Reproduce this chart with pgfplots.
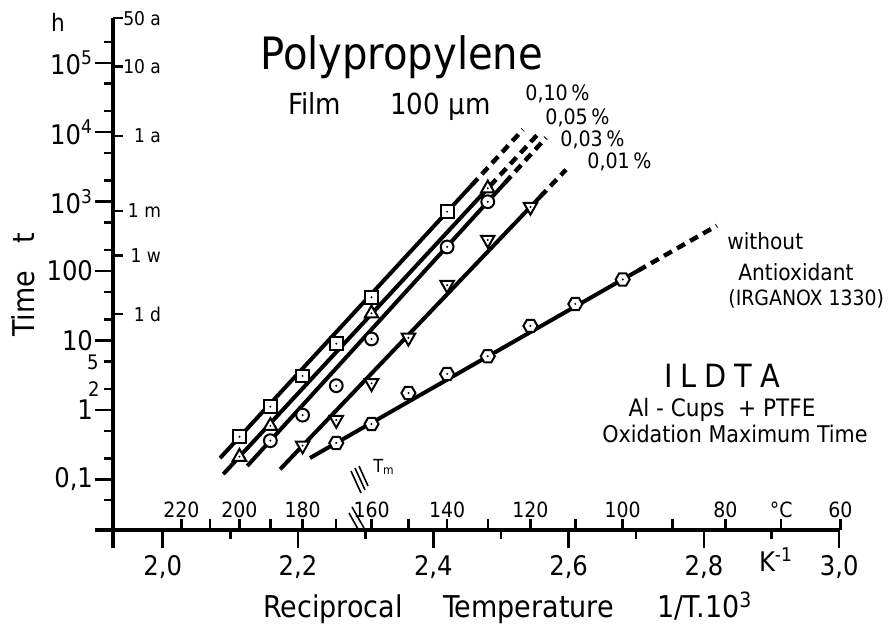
\documentclass[border=0pt]{standalone}
\usepackage{fontspec}
\setmainfont{DejaVu Sans Condensed}
\usepackage{pgfplots}
\pgfplotsset{compat=1.18}

\pgfdeclareplotmark{sqdot}{%
  \pgfpathrectangle{\pgfqpoint{-\pgfplotmarksize}{-\pgfplotmarksize}}{\pgfqpoint{2\pgfplotmarksize}{2\pgfplotmarksize}}%
  \pgfsetfillcolor{white}\pgfusepathqfillstroke
  \pgfpathcircle{\pgfpointorigin}{0.55pt}\pgfsetfillcolor{black}\pgfusepathqfill}
\pgfdeclareplotmark{tridot}{%
  \pgfpathmoveto{\pgfqpoint{0pt}{1.2\pgfplotmarksize}}%
  \pgfpathlineto{\pgfqpoint{-1.05\pgfplotmarksize}{-0.65\pgfplotmarksize}}%
  \pgfpathlineto{\pgfqpoint{1.05\pgfplotmarksize}{-0.65\pgfplotmarksize}}%
  \pgfpathclose
  \pgfsetfillcolor{white}\pgfusepathqfillstroke
  \pgfpathcircle{\pgfpointorigin}{0.55pt}\pgfsetfillcolor{black}\pgfusepathqfill}
\pgfdeclareplotmark{dtridot}{%
  \pgfpathmoveto{\pgfqpoint{0pt}{-1.2\pgfplotmarksize}}%
  \pgfpathlineto{\pgfqpoint{-1.05\pgfplotmarksize}{0.65\pgfplotmarksize}}%
  \pgfpathlineto{\pgfqpoint{1.05\pgfplotmarksize}{0.65\pgfplotmarksize}}%
  \pgfpathclose
  \pgfsetfillcolor{white}\pgfusepathqfillstroke
  \pgfpathcircle{\pgfpointorigin}{0.55pt}\pgfsetfillcolor{black}\pgfusepathqfill}
\pgfdeclareplotmark{circdot}{%
  \pgfpathcircle{\pgfpointorigin}{\pgfplotmarksize}%
  \pgfsetfillcolor{white}\pgfusepathqfillstroke
  \pgfpathcircle{\pgfpointorigin}{0.55pt}\pgfsetfillcolor{black}\pgfusepathqfill}
\pgfdeclareplotmark{hexdot}{%
  \pgfpathmoveto{\pgfpointpolar{0}{1.1\pgfplotmarksize}}%
  \pgfpathlineto{\pgfpointpolar{60}{1.1\pgfplotmarksize}}%
  \pgfpathlineto{\pgfpointpolar{120}{1.1\pgfplotmarksize}}%
  \pgfpathlineto{\pgfpointpolar{180}{1.1\pgfplotmarksize}}%
  \pgfpathlineto{\pgfpointpolar{240}{1.1\pgfplotmarksize}}%
  \pgfpathlineto{\pgfpointpolar{300}{1.1\pgfplotmarksize}}%
  \pgfpathclose
  \pgfsetfillcolor{white}\pgfusepathqfillstroke
  \pgfpathcircle{\pgfpointorigin}{0.55pt}\pgfsetfillcolor{black}\pgfusepathqfill}

\pgfplotsset{
  dline/.style={black, line width=2pt, no marks},
  dext/.style={black, line width=2.2pt, dash pattern=on 4.5pt off 3pt, no marks},
  mk/.style={only marks, black, mark size=3.2pt, mark options={line width=1pt, solid}},
}

\begin{document}
\begin{tikzpicture}
\begin{axis}[
  at={(0,0)}, anchor=south west, scale only axis,
  width=363.7pt, height=256pt,
  xmin=1.92654, xmax=3.0017,
  ymode=log, ymin=0.01862, ymax=440555,
  axis lines=left, axis line style={-, line width=1.6pt},
  clip=false,
  xtick={2.0,2.2,2.4,2.6,2.8,3.0},
  xticklabels={{2,0},{2,2},{2,4},{2,6},{2,8},{3,0}},
  minor xtick={2.1,2.3,2.5,2.7,2.9},
  ytick={0.1,1,10,100,1000,10000,100000},
  yticklabels={{0,1},1,10,100,10\textsuperscript{3},10\textsuperscript{4},10\textsuperscript{5}},
  minor ytick={0.05,0.2,0.5,2,5,20,50,200,500,2000,5000,20000,50000,200000},
  tick align=outside, major tick length=9pt, minor tick length=4.5pt,
  tick style={line width=1.2pt, black},
  tick label style={font=\fontsize{13.5}{16}\selectfont},
  yticklabel style={xshift=2.5pt},
  /pgf/number format/assume math mode=true,
  extra x ticks={2.02779,2.06975,2.11349,2.15913,2.20677,2.25657,2.30867,2.36323,2.42042,2.48046,2.54356,2.60994,2.67989,2.75368,2.83166,2.91418,3.00165},
  extra x tick labels={220,,200,,180,,160,,140,,120,,100,,80,{°C},60},
  extra x tick style={tick align=inside, major tick length=5.5pt,
    xticklabel style={anchor=south, yshift=2.5pt, font=\fontsize{10.5}{12}\selectfont}},
  extra y ticks={438300,87660,8766,730,168,24},
  extra y tick labels={50 a,10 a,1 a,1 m,1 w,1 d},
  extra y tick style={tick align=inside, major tick length=5pt,
    yticklabel style={anchor=east, xshift=25pt, font=\fontsize{9.5}{11}\selectfont}},
]
% 0.10 %
\addplot[dline] coordinates {(2.0847,0.2018) (2.4567,1722)};
\addplot[dext] coordinates {(2.4567,1722) (2.5325,10890)};
\addplot[mk, mark=sqdot] coordinates {(2.11349,0.41) (2.15913,1.11) (2.20677,3.08) (2.25657,9.0) (2.30867,41.8) (2.42042,714)};
% 0.05 %
\addplot[dline] coordinates {(2.0896,0.1187) (2.4837,1675)};
\addplot[dext] coordinates {(2.4837,1675) (2.5532,9040)};
\addplot[mk, mark=tridot] coordinates {(2.11349,0.212) (2.15913,0.59) (2.30867,24.6) (2.48046,1552)};
% 0.03 %
\addplot[dline] coordinates {(2.125,0.1556) (2.5059,1862)};
\addplot[dext] coordinates {(2.5059,1862) (2.5665,8300)};
\addplot[mk, mark=circdot] coordinates {(2.15913,0.36) (2.20677,0.84) (2.25657,2.23) (2.30867,10.5) (2.42042,222) (2.48046,995)};
% 0.01 %
\addplot[dline] coordinates {(2.1736,0.1396) (2.5578,1170)};
\addplot[dext] coordinates {(2.5578,1170) (2.5961,2877)};
\addplot[mk, mark=dtridot] coordinates {(2.20677,0.305) (2.25657,0.714) (2.30867,2.41) (2.36323,10.9) (2.42042,62.8) (2.48046,280) (2.54356,836)};
% without antioxidant
\addplot[dline] coordinates {(2.2177,0.203) (2.7025,101)};
\addplot[dext] coordinates {(2.7025,101) (2.819,449)};
\addplot[mk, mark=hexdot] coordinates {(2.25657,0.333) (2.30867,0.626) (2.36323,1.75) (2.42042,3.29) (2.48046,5.92) (2.54356,16.2) (2.60994,33.5) (2.67989,75.5)};
\end{axis}
\begin{scope}[x=0.5pt, y=-0.5pt, shift={(-56.5pt,265pt)}, every node/.style={inner sep=0pt}]
  \draw[line width=1.6pt] (113,529) -- (113,548);
  \draw[line width=1.6pt] (114,530) -- (95,530);
  % T_m hatch
  \draw[line width=0.8pt] (351,471)--(361,493) (355,468)--(365,490) (359,466)--(368,486);
  \draw[line width=0.8pt] (352,507)--(364,528) (349,513)--(358,529);
  \node[font=\fontsize{9}{10}\selectfont] at (384,467) {T\textsubscript{m}};
  % labels
  \node[font=\fontsize{12}{14}\selectfont] at (58,22) {h};
  \node[rotate=90, font=\fontsize{15}{18}\selectfont] at (23,285) {Time\hspace{0.9em}t};
  \node[font=\fontsize{10}{11}\selectfont, anchor=east] at (99,362) {5};
  \node[font=\fontsize{10}{11}\selectfont, anchor=east] at (100,389) {2};
  \node[anchor=base west, font=\fontsize{22.3}{26}\selectfont] at (260,70) {Polypropylene};
  \node[anchor=base west, font=\fontsize{14.5}{17}\selectfont] at (288,115) {Film};
  \node[anchor=base west, font=\fontsize{14.5}{17}\selectfont] at (390,115) {100 µm};
  \node[anchor=base west, font=\fontsize{10.6}{12}\selectfont] at (525,101) {0,10\,\%};
  \node[anchor=base west, font=\fontsize{10.6}{12}\selectfont] at (545,125) {0,05\,\%};
  \node[anchor=base west, font=\fontsize{10.6}{12}\selectfont] at (560,147) {0,03\,\%};
  \node[anchor=base west, font=\fontsize{10.6}{12}\selectfont] at (587,169) {0,01\,\%};
  \node[anchor=base west, font=\fontsize{11.2}{13}\selectfont] at (727,250) {without};
  \node[anchor=base west, font=\fontsize{11.2}{13}\selectfont] at (738,281) {Antioxidant};
  \node[anchor=base west, font=\fontsize{10.5}{13}\selectfont] at (728,306) {(IRGANOX 1330)};
  \node[anchor=base, font=\fontsize{16}{19}\selectfont] at (722,388) {I\kern4pt L\kern4pt D\kern4pt T\kern4pt A};
  \node[anchor=base, font=\fontsize{12}{14}\selectfont] at (722,417) {Al - Cups \ + PTFE};
  \node[anchor=base, font=\fontsize{11.5}{14}\selectfont] at (735,443) {Oxidation Maximum Time};
  \node[anchor=base west, font=\fontsize{15}{18}\selectfont] at (263,618) {Reciprocal};
  \node[anchor=base west, font=\fontsize{15}{18}\selectfont] at (443,618) {Temperature};
  \node[anchor=base west, font=\fontsize{15}{18}\selectfont] at (657,618) {1/T.10\textsuperscript{3}};
  \node[anchor=base, font=\fontsize{13.5}{16}\selectfont] at (776,572) {K\textsuperscript{-1}};
  \pgfresetboundingbox
  \path (0,0) rectangle (896,626);
\end{scope}
\end{tikzpicture}
\end{document}
